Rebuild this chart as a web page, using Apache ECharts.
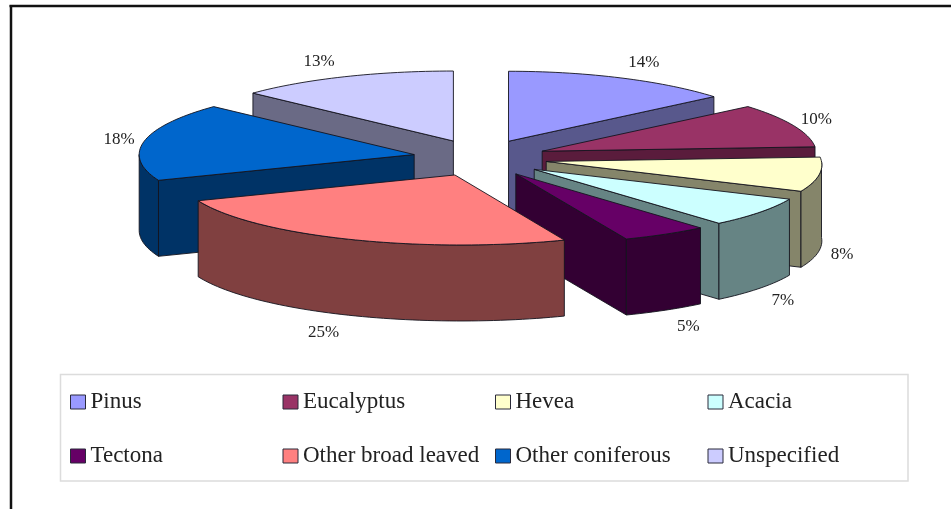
<!DOCTYPE html>
<html>
<head>
<meta charset="utf-8">
<style>html,body{margin:0;padding:0;background:#fff}#c{width:951px;height:509px}</style>
<script src="https://cdn.jsdelivr.net/npm/echarts@6/dist/echarts.min.js"></script>
</head>
<body>
<div id="c"></div>
<script>
// Planted forest area by genus
const categories = ['Pinus', 'Eucalyptus', 'Hevea', 'Acacia', 'Tectona', 'Other broad leaved', 'Other coniferous', 'Unspecified'];
const shares = [14, 10, 8, 7, 5, 25, 18, 13];
const topColors = ['#9999FF', '#993366', '#FFFFCC', '#CCFFFF', '#660066', '#FF8080', '#0066CC', '#CCCCFF'];
const wallColors = ['#58588C', '#5A1C3C', '#85856A', '#668484', '#330033', '#804040', '#003366', '#6A6A85'];

// Projection of the tilted, exploded pie
const CX = 480, CY = 158;
const RX = 275, RY = 70, DEPTH = 76;
const EXPLODE_X = 67, EXPLODE_Y = 18.5;
const total = shares.reduce((a, b) => a + b, 0);
const rad = d => d * Math.PI / 180;

// Mild perspective: the near half flares out, the far right narrows
function project(X, Y, h) {
  const x = CX + X;
  const flare = Y > 0
    ? (x - 160) * 0.0003 * Y
    : Math.max(x - 508, 0) * 0.0005 * Y;
  return [x + flare, CY + Y + h];
}

function arcPoints(ox, oy, from, to, h) {
  const pts = [];
  const steps = Math.max(2, Math.ceil((to - from) / 1.5));
  for (let i = 0; i <= steps; i++) {
    const t = rad(from + (to - from) * i / steps);
    pts.push(project(ox + RX * Math.sin(t), oy - RY * Math.cos(t), h));
  }
  return pts;
}

function renderSlice(params, api) {
  const share = api.value(0), startShare = api.value(1);
  const a0 = startShare / total * 360, a1 = (startShare + share) / total * 360;
  const mid = rad((a0 + a1) / 2);
  const ox = EXPLODE_X * Math.sin(mid), oy = -EXPLODE_Y * Math.cos(mid);
  const top = api.style().fill;
  const wall = wallColors[params.seriesIndex];
  const edge = { stroke: '#14141e', lineWidth: 0.9, lineJoin: 'round' };
  const apex = project(ox, oy, 0), apexLow = project(ox, oy, DEPTH);
  const children = [];
  const poly = (points, fill) => children.push({ type: 'polygon', shape: { points }, style: Object.assign({ fill }, edge) });

  // Radial walls only show when they turn towards the viewer
  [[a0, Math.sin(rad(a0)) < 0], [a1, Math.sin(rad(a1)) > 0]].forEach(([a, visible]) => {
    if (!visible) return;
    const rimTop = arcPoints(ox, oy, a, a, 0)[0], rimLow = arcPoints(ox, oy, a, a, DEPTH)[0];
    poly([apex, rimTop, rimLow, apexLow], wall);
  });

  // Outer wall along the front half of the rim
  const wa = Math.max(a0, 90), wb = Math.min(a1, 270);
  if (wb > wa) {
    poly(arcPoints(ox, oy, wa, wb, 0).concat(arcPoints(ox, oy, wa, wb, DEPTH).reverse()), wall);
  }

  // Top face
  poly([apex].concat(arcPoints(ox, oy, a0, a1, 0)), top);

  // Percentage label just outside the rim
  const sm = Math.sin(mid), cm = Math.cos(mid);
  const rim = project(ox + RX * sm, oy - RY * cm, cm < 0 ? DEPTH : 0);
  children.push({
    type: 'text',
    style: {
      x: rim[0] + (sm > 0 ? 23 : -25),
      y: rim[1] - 18 * cm + 1,
      text: Math.round(share / total * 100) + '%',
      fill: '#222',
      font: '17px "Liberation Serif"',
      align: 'center',
      verticalAlign: 'middle'
    }
  });
  return { type: 'group', children };
}

// Painter's order: slices whose middle lies nearer the viewer go on top
let running = 0;
const series = categories.map((name, i) => {
  const start = running;
  running += shares[i];
  const mid = rad((start + shares[i] / 2) / total * 360);
  return {
    type: 'custom',
    name,
    coordinateSystem: 'none',
    z: 10 - Math.cos(mid) * 5,
    silent: true,
    animation: false,
    itemStyle: { color: topColors[i] },
    renderItem: renderSlice,
    data: [[shares[i], start]]
  };
});

const chart = echarts.init(document.getElementById('c'), null, { renderer: 'canvas' });
chart.setOption({
  animation: false,
  backgroundColor: '#fff',
  graphic: [
    // Frame: top and left rules only
    { type: 'line', silent: true, z: 0, shape: { x1: 9.5, y1: 6, x2: 951, y2: 6 }, style: { stroke: '#111', lineWidth: 2.5 } },
    { type: 'line', silent: true, z: 0, shape: { x1: 11, y1: 5, x2: 11, y2: 509 }, style: { stroke: '#111', lineWidth: 2.5 } },
    // Legend box
    { type: 'rect', silent: true, z: 0, shape: { x: 60.5, y: 374.5, width: 847.5, height: 106.5 }, style: { fill: '#fff', stroke: '#dcdcdc', lineWidth: 1.5 } }
  ],
  legend: {
    left: 70, top: 375, width: 880,
    padding: 0,
    orient: 'horizontal',
    itemWidth: 15,
    itemHeight: 14,
    itemGap: 0,
    selectedMode: false,
    icon: 'rect',
    itemStyle: { borderColor: '#2a2a3a', borderWidth: 1 },
    textStyle: {
      fontFamily: '"Liberation Serif"',
      fontSize: 23,
      color: '#222',
      width: 192,
      height: 50,
      lineHeight: 50,
      padding: [4, 0, 0, 0],
      overflow: 'none'
    },
    data: categories
  },
  series
});
</script>
</body>
</html>
